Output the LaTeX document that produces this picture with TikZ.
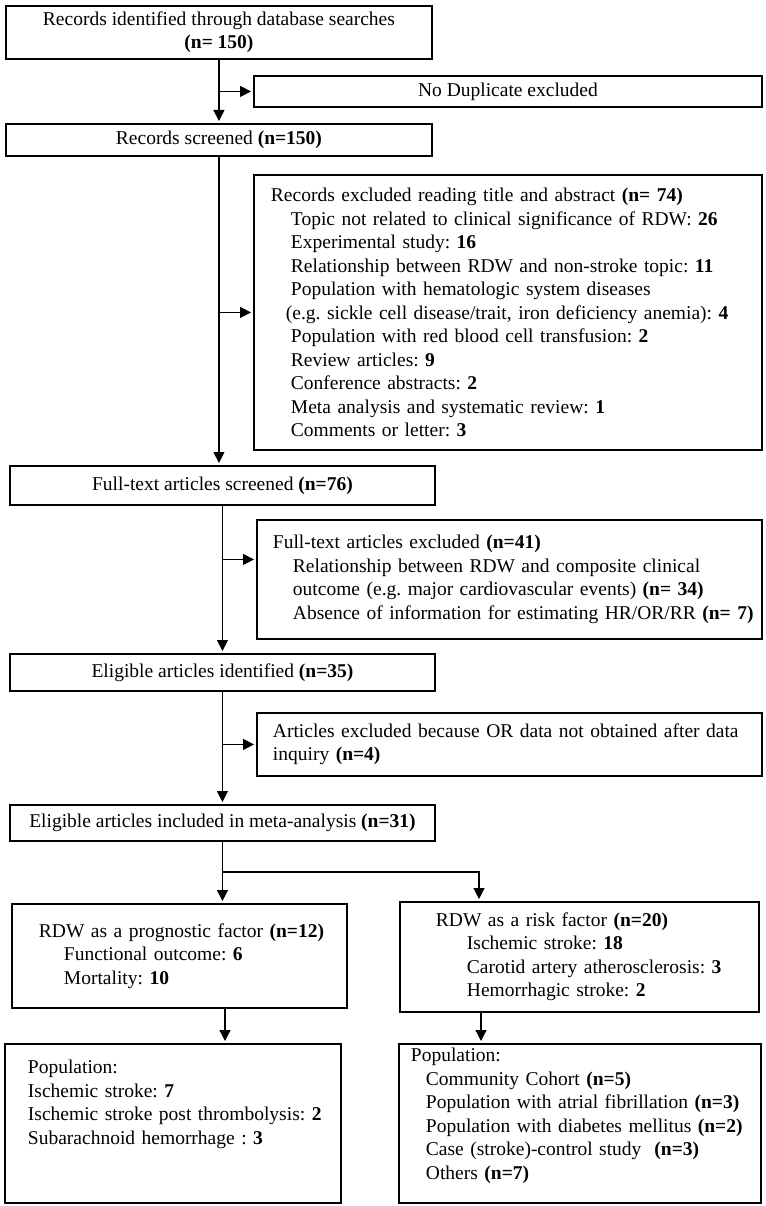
\documentclass[tikz,border=0pt]{standalone}
\usepackage{fontspec}
\setmainfont{Liberation Serif}
\usetikzlibrary{arrows.meta,positioning,calc}

\begin{document}
\begin{tikzpicture}[x=1pt,y=-1pt,
  flowbox/.style={draw,line width=1.9pt,anchor=north west,inner xsep=0pt,inner ysep=4pt,
    font=\fontsize{19.5}{23.5}\selectfont\frenchspacing},
  centerbox/.style={flowbox,align=center},
  listbox/.style 2 args={flowbox,align=left,minimum width=#1,text width=#1-8pt,
    execute at begin node={\leftskip=#2}},
  flowline/.style={line width=1.2pt,shorten >=2pt,-{Triangle[length=11pt,width=11pt]}}
]
\useasboundingbox (0,0) rectangle (765,1206);

\node[centerbox,minimum width=426pt,minimum height=53pt] (ident) at (5,5)
  {Records identified through database searches\\\textbf{(n= 150)}};
\node[centerbox,minimum width=508pt,minimum height=31pt] (nodup) at (253,75)
  {No Duplicate excluded};
\node[centerbox,minimum width=426pt,minimum height=32pt] (screen) at (5,123)
  {Records screened \textbf{(n=150)}};
\node[listbox={508pt}{13pt},minimum height=275pt] (excl1) at (253,174)
  {Records excluded reading title and abstract \textbf{(n= 74)}\\
   \hspace*{20pt}Topic not related to clinical significance of RDW: \textbf{26}\\
   \hspace*{20pt}Experimental study: \textbf{16}\\
   \hspace*{20pt}Relationship between RDW and non-stroke topic: \textbf{11}\\
   \hspace*{20pt}Population with hematologic system diseases\\
   \hspace*{15pt}(e.g. sickle cell disease/trait, iron deficiency anemia): \textbf{4}\\
   \hspace*{20pt}Population with red blood cell transfusion: \textbf{2}\\
   \hspace*{20pt}Review articles: \textbf{9}\\
   \hspace*{20pt}Conference abstracts: \textbf{2}\\
   \hspace*{20pt}Meta analysis and systematic review: \textbf{1}\\
   \hspace*{20pt}Comments or letter: \textbf{3}};
\node[centerbox,minimum width=425pt,minimum height=39pt] (fulltext) at (9,465)
  {Full-text articles screened \textbf{(n=76)}};
\node[listbox={505pt}{12pt},minimum height=119pt] (excl2) at (256,519)
  {Full-text articles excluded \textbf{(n=41)}\\
   \hspace*{20pt}Relationship between RDW and composite clinical\\
   \hspace*{20pt}outcome (e.g. major cardiovascular events) \textbf{(n= 34)}\\
   \hspace*{20pt}Absence of information for estimating HR/OR/RR \textbf{(n= 7)}};
\node[centerbox,minimum width=425pt,minimum height=37pt] (elig) at (9,653)
  {Eligible articles identified \textbf{(n=35)}};
\node[listbox={505pt}{12pt},minimum height=63pt] (excl3) at (256,712)
  {Articles excluded because OR data not obtained after data\\
   inquiry \textbf{(n=4)}};
\node[centerbox,minimum width=425pt,minimum height=36pt] (incl) at (9,804)
  {Eligible articles included in meta-analysis \textbf{(n=31)}};
\node[listbox={335pt}{23pt},minimum height=104pt] (prog) at (11,903)
  {RDW as a prognostic factor \textbf{(n=12)}\\
   \hspace*{25pt}Functional outcome: \textbf{6}\\
   \hspace*{25pt}Mortality: \textbf{10}};
\node[listbox={359pt}{32pt},minimum height=110pt] (risk) at (399,901)
  {RDW as a risk factor \textbf{(n=20)}\\
   \hspace*{31pt}Ischemic stroke: \textbf{18}\\
   \hspace*{31pt}Carotid artery atherosclerosis: \textbf{3}\\
   \hspace*{31pt}Hemorrhagic stroke: \textbf{2}};
\node[listbox={336pt}{19pt},minimum height=159pt,text height=26pt,text depth=125pt] (popL) at (4,1043)
  {Population:\\
   Ischemic stroke: \textbf{7}\\
   Ischemic stroke post thrombolysis: \textbf{2}\\
   Subarachnoid hemorrhage : \textbf{3}};
\node[listbox={362pt}{8pt},minimum height=159pt,text height=14pt,text depth=137pt] (popR) at (398,1043)
  {Population:\\
   \hspace*{15pt}Community Cohort \textbf{(n=5)}\\
   \hspace*{15pt}Population with atrial fibrillation \textbf{(n=3)}\\
   \hspace*{15pt}Population with diabetes mellitus \textbf{(n=2)}\\
   \hspace*{15pt}Case (stroke)-control study\ \ \textbf{(n=3)}\\
   \hspace*{15pt}Others \textbf{(n=7)}};

\draw[flowline] (ident.south) -- (screen.north);
\draw[flowline] (ident.south |- nodup.west) -- (nodup.west);
\draw[flowline] (screen.south) -- (screen.south |- fulltext.north);
\draw[flowline] (screen.south |- excl1.west) -- (excl1.west);
\coordinate (excl2in) at ([yshift=20pt]excl2.west);
\draw[flowline] (fulltext.south) -- (elig.north);
\draw[flowline] (fulltext.south |- excl2in) -- (excl2in);
\draw[flowline] (elig.south) -- (incl.north);
\draw[flowline] (elig.south |- excl3.west) -- (excl3.west);
\coordinate (split) at ([yshift=-30pt]incl.south);
\coordinate (riskin) at ([xshift=80pt]risk.north west);
\draw[flowline] (incl.south) -- (incl.south |- prog.north);
\draw[flowline] (split) -| (riskin);
\coordinate (progout) at ([xshift=214pt]prog.south west);
\coordinate (riskout) at ([xshift=82pt]risk.south west);
\draw[flowline] (progout) -- (progout |- popL.north);
\draw[flowline] (riskout) -- (riskout |- popR.north);
\end{tikzpicture}
\end{document}
